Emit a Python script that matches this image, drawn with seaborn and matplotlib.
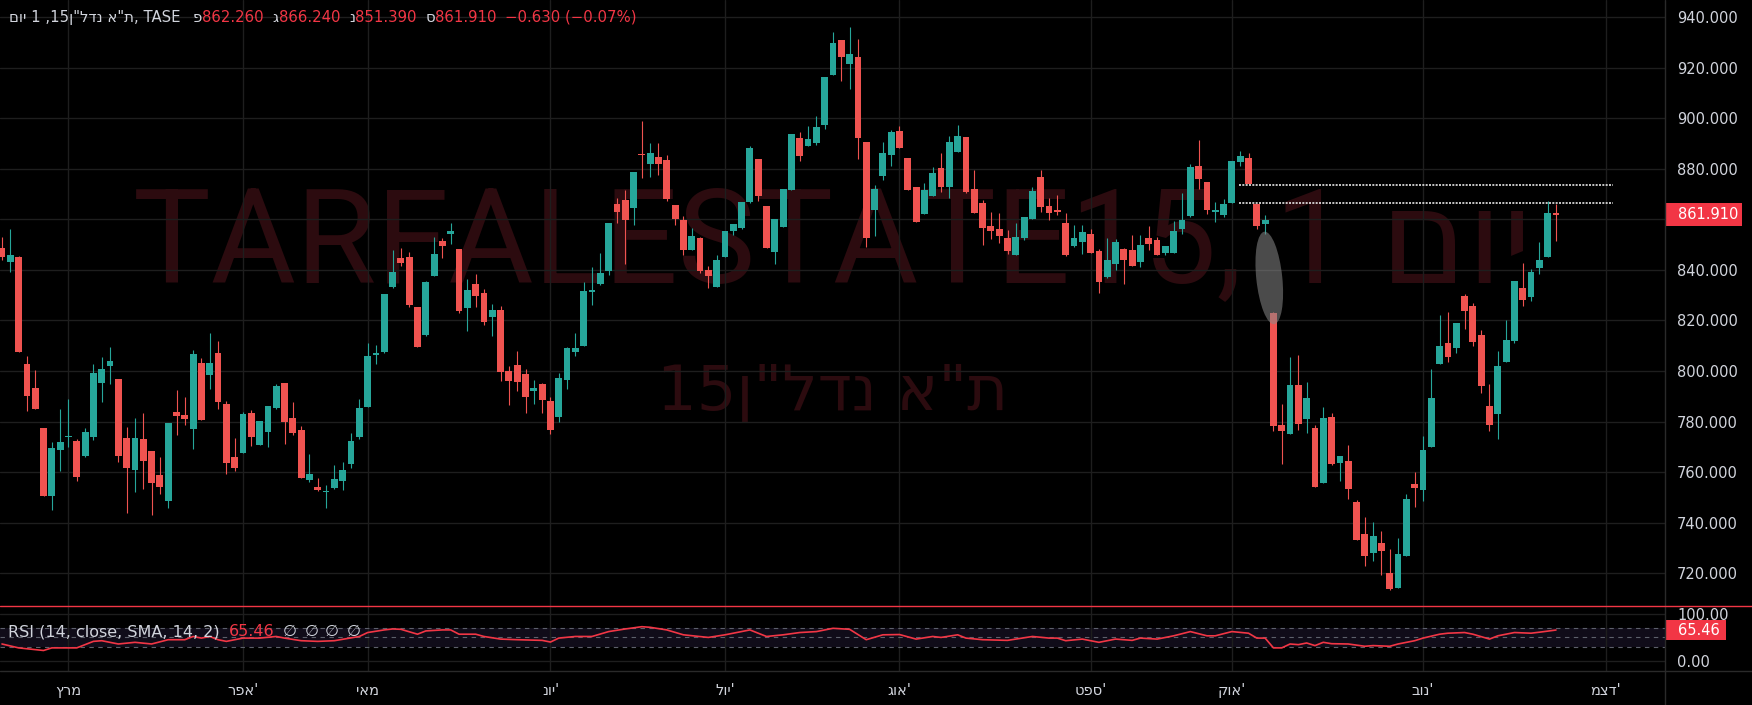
import matplotlib
matplotlib.use("Agg")
import matplotlib.pyplot as plt
import matplotlib.patches as mpatches
import matplotlib.transforms as mtransforms
from matplotlib.lines import Line2D
import numpy as np
import pandas as pd
import seaborn as sns

# daily candles (one per trading day, late Feb -> 23 Nov)
opens = [
    848.7, 843.3, 845.1, 802.8, 793.3, 777.5, 750.6, 768.8, 773.9, 772.4,
    766.5, 774.0, 795.3, 802.0, 796.9, 773.6, 760.9, 773.2, 768.4, 758.9,
    748.7, 783.8, 782.7, 777.1, 803.2, 798.5, 807.2, 787.0, 766.1, 767.6,
    783.5, 770.8, 775.9, 785.4, 795.3, 781.5, 776.7, 757.0, 754.2, 752.0,
    753.8, 756.5, 763.2, 773.7, 785.9, 806.5, 807.6, 833.3, 844.8, 845.2,
    825.4, 814.4, 837.7, 851.5, 854.3, 848.4, 825.0, 834.5, 831.0, 821.5,
    824.2, 800.1, 802.5, 798.9, 792.2, 795.0, 788.3, 781.9, 796.6, 807.6,
    810.0, 831.4, 834.5, 839.7, 866.1, 867.7, 864.6, 885.9, 882.0, 884.7,
    883.5, 865.8, 859.9, 848.0, 852.4, 840.1, 833.2, 845.0, 855.3, 856.7,
    867.0, 884.0, 865.4, 846.9, 857.1, 871.4, 892.3, 889.1, 890.3, 897.4,
    917.2, 931.0, 921.6, 924.3, 890.7, 863.8, 877.3, 885.6, 895.1, 884.4,
    872.9, 861.9, 869.3, 880.1, 872.9, 886.8, 892.7, 871.8, 866.3, 857.5,
    856.3, 852.5, 845.7, 852.5, 860.0, 876.6, 865.1, 863.5, 858.4, 849.3,
    850.9, 854.0, 847.3, 837.0, 842.2, 848.1, 847.7, 843.0, 852.5, 851.7,
    846.5, 846.5, 856.0, 861.2, 880.9, 874.6, 862.7, 861.6, 866.3, 882.5,
    884.1, 865.9, 858.0, 822.8, 778.6, 775.0, 794.4, 780.9, 777.4, 755.9,
    781.8, 763.8, 764.4, 748.2, 735.6, 728.2, 732.0, 720.2, 714.2, 727.0,
    755.3, 753.1, 770.1, 802.9, 811.1, 809.2, 829.6, 825.7, 814.2, 786.2,
    782.8, 803.7, 812.0, 832.8, 829.4, 840.8, 845.2, 862.26,
]
highs = [
    853.0, 856.2, 845.5, 806.0, 800.4, 777.5, 772.0, 785.0, 789.0, 773.2,
    777.5, 802.8, 805.6, 809.5, 796.9, 777.9, 781.5, 783.5, 768.4, 766.1,
    779.5, 792.5, 789.8, 808.4, 805.2, 815.1, 811.9, 788.2, 773.6, 783.9,
    784.6, 780.3, 786.2, 794.9, 795.3, 787.8, 778.3, 767.2, 757.8, 755.0,
    762.9, 764.0, 775.3, 789.1, 811.2, 810.4, 830.6, 848.0, 848.7, 847.2,
    825.4, 835.7, 853.1, 852.7, 858.6, 848.4, 836.5, 838.5, 832.5, 826.6,
    825.8, 802.1, 808.0, 800.9, 796.6, 795.4, 789.9, 799.4, 809.6, 815.1,
    835.3, 841.2, 846.8, 858.6, 868.5, 871.7, 878.8, 898.9, 890.3, 890.3,
    885.5, 865.8, 861.1, 856.6, 852.8, 841.7, 845.8, 855.3, 858.0, 867.0,
    888.8, 884.0, 865.4, 860.3, 872.0, 893.6, 894.6, 897.0, 901.0, 916.4,
    934.2, 931.0, 936.2, 931.4, 890.7, 873.6, 890.7, 895.5, 897.0, 884.4,
    872.9, 874.5, 880.8, 886.4, 893.1, 897.4, 892.7, 879.6, 867.8, 863.0,
    862.6, 855.6, 858.4, 860.8, 872.6, 879.3, 868.3, 869.5, 862.3, 857.6,
    857.6, 856.0, 848.1, 852.5, 852.1, 848.5, 853.6, 853.6, 857.2, 852.9,
    849.3, 859.2, 870.3, 881.7, 891.2, 874.6, 866.7, 867.9, 882.9, 887.2,
    886.1, 865.9, 861.6, 823.2, 786.9, 805.4, 806.2, 795.5, 778.7, 785.8,
    783.4, 766.4, 770.8, 749.0, 742.3, 740.3, 736.8, 729.7, 734.0, 751.4,
    760.1, 774.3, 800.8, 822.1, 823.3, 819.0, 830.4, 826.9, 816.2, 794.9,
    807.9, 820.2, 835.6, 842.7, 840.3, 851.0, 867.2, 866.24,
]
lows = [
    843.9, 839.3, 807.6, 784.2, 785.0, 750.6, 745.1, 760.5, 770.0, 756.6,
    766.1, 772.8, 787.8, 794.9, 764.1, 743.9, 752.2, 753.4, 743.1, 751.4,
    745.7, 774.8, 778.7, 769.2, 780.7, 792.9, 785.0, 759.3, 760.5, 767.6,
    770.4, 770.8, 770.0, 785.0, 771.3, 774.8, 757.8, 756.2, 752.6, 745.9,
    753.4, 753.0, 761.5, 773.0, 785.9, 802.9, 807.2, 832.9, 841.6, 825.4,
    809.6, 814.0, 837.7, 844.8, 850.3, 823.1, 815.9, 825.4, 818.3, 813.9,
    796.2, 786.7, 792.2, 783.5, 787.0, 783.4, 775.2, 780.0, 793.0, 806.1,
    810.0, 826.2, 834.1, 838.1, 858.6, 842.4, 857.8, 876.4, 876.8, 877.6,
    867.3, 857.9, 845.7, 848.0, 838.8, 832.8, 833.2, 845.0, 853.7, 856.3,
    866.6, 867.4, 848.7, 842.5, 857.1, 871.4, 883.2, 889.1, 889.5, 895.9,
    917.2, 914.8, 911.7, 884.0, 849.1, 853.2, 875.4, 881.2, 888.3, 871.6,
    859.0, 861.9, 869.3, 870.6, 868.5, 886.8, 870.2, 862.6, 849.8, 852.3,
    850.7, 846.1, 845.7, 851.7, 860.0, 862.7, 859.6, 861.6, 845.3, 848.9,
    846.1, 846.5, 830.7, 836.6, 839.8, 834.3, 841.4, 841.0, 847.7, 845.7,
    845.7, 846.5, 854.0, 860.8, 871.8, 861.9, 858.8, 860.8, 866.3, 880.9,
    873.8, 856.0, 854.0, 776.2, 763.1, 775.0, 776.5, 775.3, 754.3, 755.9,
    763.0, 756.3, 749.5, 733.3, 722.7, 725.0, 719.5, 713.4, 714.2, 727.0,
    746.2, 748.4, 770.1, 802.9, 803.7, 807.2, 816.7, 810.0, 791.4, 776.4,
    773.3, 803.7, 811.2, 825.8, 827.8, 838.4, 845.2, 851.39,
]
closes = [
    845.1, 845.9, 807.6, 790.2, 785.0, 750.6, 769.6, 772.0, 774.3, 758.2,
    775.9, 799.3, 800.8, 804.0, 766.5, 761.7, 773.6, 764.5, 755.8, 754.2,
    779.5, 782.3, 781.1, 806.8, 780.7, 803.2, 787.8, 763.7, 761.7, 783.1,
    774.0, 780.3, 786.2, 794.1, 779.9, 775.5, 757.8, 759.3, 753.0, 752.4,
    757.4, 760.9, 772.3, 785.5, 806.1, 807.2, 830.6, 839.3, 842.8, 826.2,
    809.6, 835.3, 846.4, 849.5, 855.5, 823.8, 832.1, 829.8, 819.5, 824.2,
    799.7, 796.2, 795.8, 789.9, 793.4, 788.7, 776.8, 797.4, 809.2, 809.2,
    831.8, 832.1, 838.9, 858.6, 863.0, 859.8, 878.8, 885.5, 886.3, 882.0,
    868.1, 860.3, 848.0, 853.5, 839.7, 837.7, 843.8, 855.3, 858.0, 867.0,
    888.0, 869.4, 848.7, 860.3, 872.0, 893.6, 885.2, 891.8, 896.6, 916.4,
    929.9, 924.3, 925.5, 892.3, 852.4, 872.0, 886.4, 894.7, 888.3, 871.6,
    859.0, 871.4, 878.5, 872.6, 890.7, 893.1, 870.6, 862.6, 856.5, 855.5,
    853.5, 847.3, 852.9, 860.8, 871.0, 864.7, 862.3, 862.7, 845.7, 852.5,
    854.8, 846.5, 835.1, 843.8, 850.9, 843.8, 841.4, 849.7, 850.1, 845.7,
    849.3, 855.2, 859.6, 880.5, 875.8, 863.5, 863.5, 865.9, 882.9, 884.9,
    873.8, 857.2, 859.6, 778.2, 776.2, 794.4, 779.1, 789.2, 754.3, 781.4,
    763.4, 766.4, 753.5, 733.3, 727.0, 734.8, 729.0, 713.9, 727.7, 749.4,
    753.9, 768.8, 789.3, 809.9, 805.7, 819.0, 823.8, 811.6, 794.2, 778.8,
    802.0, 812.3, 835.6, 828.2, 839.1, 843.9, 862.54, 861.91,
]

# RSI(14) line, sampled at its visible turning points (candle index, value)
rsi_idx = [0, 2, 5, 6, 9, 11, 12, 14, 16, 18, 20, 22, 23, 24, 25, 26, 27, 29, 31, 33,
           34, 36, 38, 40, 43, 44, 46, 47, 48, 50, 51, 53, 54, 55, 57, 58, 60, 62, 65, 66,
           67, 69, 71, 73, 75, 77, 78, 80, 82, 85, 87, 88, 90, 91, 92, 94, 96, 98, 100, 102,
           104, 106, 108, 110, 112, 113, 115, 116, 118, 121, 122, 124, 126, 127, 128, 130, 132, 134, 136, 137,
           139, 141, 143, 145, 146, 148, 150, 151, 152, 153, 154, 155, 156, 157, 158, 159, 160, 162, 164, 165,
           167, 168, 170, 171, 173, 174, 176, 177, 179, 180, 182, 184, 185, 187]
rsi_val = [36.1, 27.9, 22.4, 27.9, 27.9, 41.6, 43.0, 36.1, 39.6, 36.1, 45.1, 45.1, 51.9, 48.5, 51.9, 45.1, 41.6, 48.5, 48.5, 51.9,
           48.5, 43.0, 41.6, 43.0, 51.9, 60.2, 65.7, 67.7, 67.0, 56.7, 63.6, 65.7, 65.7, 56.7, 56.7, 51.9, 46.4, 45.1, 43.7, 40.2,
           48.5, 51.9, 51.9, 62.2, 67.7, 72.5, 71.2, 65.7, 55.4, 49.9, 55.4, 58.8, 65.7, 58.8, 51.9, 55.4, 60.2, 62.2, 69.1, 67.0,
           45.1, 55.4, 56.0, 46.4, 51.9, 49.9, 55.4, 48.5, 45.1, 43.7, 46.4, 51.9, 48.5, 48.5, 43.0, 46.4, 39.6, 46.4, 43.7, 48.5,
           46.4, 53.3, 62.2, 53.3, 53.3, 62.2, 58.8, 48.5, 48.5, 27.9, 27.9, 36.1, 34.7, 38.2, 32.7, 39.6, 36.7, 36.1, 31.3, 32.7,
           31.3, 36.1, 43.0, 48.5, 56.7, 58.8, 60.2, 56.7, 46.4, 53.3, 60.2, 58.8, 60.9, 65.46]

# month grid: candle index of first trading day, Hebrew labels in visual order
month_idx = [8, 29, 44, 66, 87, 108, 131, 148, 171, 193]
month_labels = ["ץרמ", "רפא'", "יאמ", "נוי'", "לוי'", "גוא'", "טפס'", "קוא'", "בונ'", "מצד'"]

price_ticks = list(range(720, 941, 20))
gap_levels = [873.7, 866.6]
last_price = 861.91
last_rsi = 65.46

UP = "#26a69a"
DOWN = "#ef5350"
RED = "#f23645"
GRID = "#1e1e1e"
TEXT = "#d1d4dc"
BG = "#000000"

sns.set_theme(style="dark", rc={"axes.facecolor": BG, "figure.facecolor": BG})
plt.rcParams["font.family"] = ["DejaVu Sans"]

W, H = 1752, 705
PANE_R = 1665     # px, right edge of the panes
PRICE_B = 605.6   # px, bottom of price pane
RSI_B = 671.3     # px, bottom of rsi pane

fig = plt.figure(figsize=(W / 100, H / 100), dpi=100, facecolor=BG)
ax = fig.add_axes([0, 1 - PRICE_B / H, PANE_R / W, PRICE_B / H])
ax_rsi = fig.add_axes([0, 1 - RSI_B / H, PANE_R / W, (RSI_B - PRICE_B) / H])

xlim = (-0.24, 200.12)

# --- candles
df = pd.DataFrame({"open": opens, "high": highs, "low": lows, "close": closes})
df["i"] = np.arange(len(df))
col = np.where(df["close"] >= df["open"], UP, DOWN)
ax.vlines(df["i"], df["low"], df["high"], colors=col, lw=0.8, zorder=3)
body = np.maximum((df["close"] - df["open"]).abs(), 0.5)
mid = (df["open"] + df["close"]) / 2
ax.bar(df["i"], body, bottom=mid - body / 2, width=0.82, color=col, lw=0, zorder=4)

ax.set_xlim(*xlim)
ax.set_ylim(707.22, 946.72)

# grid + right axis labels
ax.set_xticks(month_idx)
ax.set_yticks(price_ticks)
ax.set_yticklabels(["" if v == 860 else f"{v:.3f}" for v in price_ticks])
ax.yaxis.tick_right()
ax.tick_params(axis="x", length=0, labelbottom=False)
ax.tick_params(axis="y", length=0, pad=8.6, labelsize=10.5, labelcolor=TEXT)
ax.grid(True, color=GRID, lw=1)
ax.set_axisbelow(True)

# watermark
ax.text(0.5, (PRICE_B - 282) / PRICE_B, "TARFALESTATE15, 1 םוי", transform=ax.transAxes,
        ha="center", va="baseline", fontsize=94, color="#2c0b0f", zorder=0.2,
        family=["Roboto", "DejaVu Sans"])
ax.text(0.5, (PRICE_B - 410) / PRICE_B, "15ן\"לדנ א\"ת", transform=ax.transAxes,
        ha="center", va="baseline", fontsize=45, color="#2c0b0f", zorder=0.2)

# gap lines
ax.hlines(gap_levels, 148.9, 193.9, colors="#e6e6e6", linestyles=(0, (1.2, 0.8)), lw=1.2, zorder=5)

# highlight ellipse (drawn in pixels)
cx, cy = ax.transData.transform((152.5, 836.8))
ax.add_patch(mpatches.Ellipse((cx, cy), 26, 93, angle=6, transform=mtransforms.IdentityTransform(),
                              fc="#8a8a8a", alpha=0.55, ec="none", zorder=5))

# last price tag
ytr = ax.get_yaxis_transform()
ax.add_patch(mpatches.Rectangle((1666 / PANE_R, last_price - 4.45), 76 / PANE_R, 8.9,
                                transform=ytr, fc=RED, ec="none", clip_on=False, zorder=6))
ax.text(1678 / PANE_R, last_price, f"{last_price:.3f}", transform=ytr, va="center", ha="left",
        fontsize=10.5, color="white", clip_on=False, zorder=7)

# --- RSI pane
ax_rsi.axhspan(30, 70, color="#100c19", lw=0, zorder=0.3)
for lvl in (70, 50, 30):
    ax_rsi.axhline(lvl, color="#5d606b", lw=0.8, ls=(0, (4, 4)), zorder=1)
sns.lineplot(x=rsi_idx, y=rsi_val, ax=ax_rsi, color=RED, linewidth=1.2, zorder=3)
ax_rsi.set_xlim(*xlim)
ax_rsi.set_ylim(-21.4, 116.9)
ax_rsi.set_xticks(month_idx)
ax_rsi.set_xticklabels(month_labels)
ax_rsi.set_yticks([0, 100])
ax_rsi.set_yticklabels(["0.00", "100.00"])
ax_rsi.yaxis.tick_right()
ax_rsi.tick_params(axis="x", length=0, pad=8.5, labelsize=10.5, labelcolor=TEXT)
ax_rsi.tick_params(axis="y", length=0, pad=8.6, labelsize=10.5, labelcolor=TEXT)
ax_rsi.grid(True, color=GRID, lw=1)
ax_rsi.set_axisbelow(True)
ax_rsi.set_xlabel("")
ax_rsi.set_ylabel("")

ytr2 = ax_rsi.get_yaxis_transform()
ax_rsi.add_patch(mpatches.Rectangle((1666 / PANE_R, last_rsi - 21.3), 60 / PANE_R, 42.6,
                                    transform=ytr2, fc=RED, ec="none", clip_on=False, zorder=6))
ax_rsi.text(1678 / PANE_R, last_rsi, f"{last_rsi:.2f}", transform=ytr2, va="center", ha="left",
            fontsize=10.5, color="white", clip_on=False, zorder=7)

for a in (ax, ax_rsi):
    for s in a.spines.values():
        s.set_visible(False)

# pane separators
fig.add_artist(Line2D([PANE_R / W] * 2, [0, 1], color="#2a2a2a", lw=1))
fig.add_artist(Line2D([0, 1], [1 - RSI_B / H] * 2, color="#2a2a2a", lw=1))
fig.add_artist(Line2D([0, 1], [1 - PRICE_B / H] * 2, color=RED, lw=1))

# header / legend rows, laid out piece by piece
renderer = fig.canvas.get_renderer()


def chain(x_px, y_px, pieces, size):
    x = x_px
    for txt, color, gap in pieces:
        x += gap
        t = fig.text(x / W, 1 - y_px / H, txt, color=color, fontsize=size, va="center", ha="left")
        x += t.get_window_extent(renderer).width


chain(9, 17.5, [
    ("םוי 1 ,15ן\"לדנ א\"ת, TASE", TEXT, 0),
    ("פ", TEXT, 12), ("862.260", RED, 0),
    ("ג", TEXT, 9), ("866.240", RED, 0),
    ("נ", TEXT, 9), ("851.390", RED, 0),
    ("ס", TEXT, 9), ("861.910", RED, 0),
    ("−0.630 (−0.07%)", RED, 8),
], 10.7)

chain(8, 631.7, [
    ("RSI (14, close, SMA, 14, 2)", TEXT, 0),
    ("65.46", RED, 9),
    ("∅", TEXT, 9), ("∅", TEXT, 7), ("∅", TEXT, 7), ("∅", TEXT, 7),
], 11.5)

fig.savefig("out.png", dpi=100, facecolor=BG)
